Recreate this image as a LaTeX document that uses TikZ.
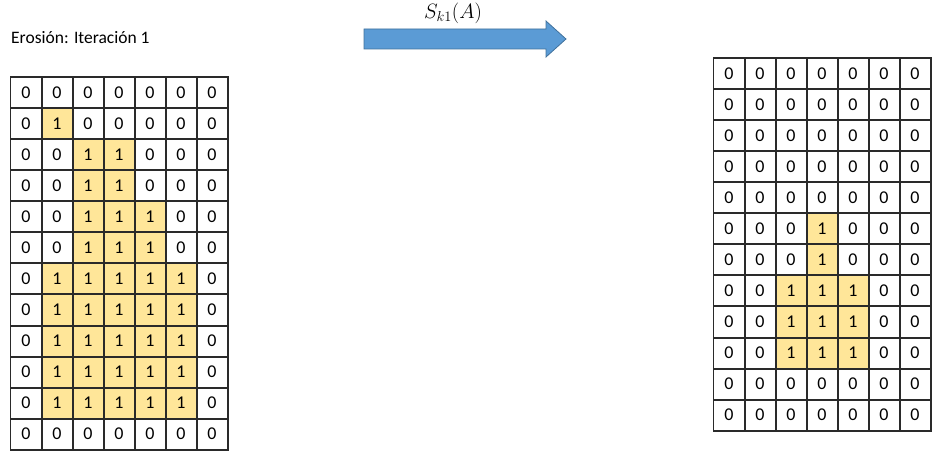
\documentclass[tikz,border=0pt]{standalone}
\usepackage{fontspec}
\setmainfont{Carlito}
\definecolor{cellyellow}{HTML}{FFE699}
\definecolor{arrowblue}{HTML}{5B9BD5}
\definecolor{arrowedge}{HTML}{41719C}
\definecolor{gridline}{HTML}{2A2A2A}
\tikzset{
  cell/.style={draw=gridline, line width=1pt, minimum width=31pt, minimum height=31pt, inner sep=0pt, anchor=center, font=\fontsize{18}{20}\selectfont},
  onecell/.style={cell, fill=cellyellow},
}
\def\leftdata{{0,0,0,0,0,0,0},{0,1,0,0,0,0,0},{0,0,1,1,0,0,0},{0,0,1,1,0,0,0},
 {0,0,1,1,1,0,0},{0,0,1,1,1,0,0},{0,1,1,1,1,1,0},{0,1,1,1,1,1,0},
 {0,1,1,1,1,1,0},{0,1,1,1,1,1,0},{0,1,1,1,1,1,0},{0,0,0,0,0,0,0}}
\def\rightdata{{0,0,0,0,0,0,0},{0,0,0,0,0,0,0},{0,0,0,0,0,0,0},{0,0,0,0,0,0,0},
 {0,0,0,0,0,0,0},{0,0,0,1,0,0,0},{0,0,0,1,0,0,0},{0,0,1,1,1,0,0},
 {0,0,1,1,1,0,0},{0,0,1,1,1,0,0},{0,0,0,0,0,0,0},{0,0,0,0,0,0,0}}
\begin{document}
\begin{tikzpicture}[x=1pt,y=-1pt]
\useasboundingbox (0,0) rectangle (943,457);
\node[anchor=west, font=\fontsize{17.5}{20}\selectfont, inner sep=0pt] (title) at (11,38) {Erosión: Iteración 1};
% cells
\foreach \row [count=\r] in \leftdata {
  \foreach \v [count=\c] in \row {
    \ifnum\v=1
      \node[onecell] (L-\r-\c) at ({26+(\c-1)*31},{93+(\r-1)*31}) {1};
    \else
      \node[cell] (L-\r-\c) at ({26+(\c-1)*31},{93+(\r-1)*31}) {0};
    \fi
  }
}
\foreach \row [count=\r] in \rightdata {
  \foreach \v [count=\c] in \row {
    \ifnum\v=1
      \node[onecell] (R-\r-\c) at ({729+(\c-1)*31},{74+(\r-1)*31}) {1};
    \else
      \node[cell] (R-\r-\c) at ({729+(\c-1)*31},{74+(\r-1)*31}) {0};
    \fi
  }
}
% grid lines over the fills
\foreach \r in {1,...,12} {
  \foreach \c in {1,...,7} {
    \draw[gridline, line width=1pt] (L-\r-\c.north west) rectangle (L-\r-\c.south east);
    \draw[gridline, line width=1pt] (R-\r-\c.north west) rectangle (R-\r-\c.south east);
  }
}
% arrow
\draw[fill=arrowblue, draw=arrowedge, line width=0.8pt, line join=miter]
  (364,29) -- (546,29) -- (546,21) -- (566,39) -- (546,57) -- (546,49) -- (364,49) -- cycle;
\node[font=\fontsize{21}{24}\selectfont] (lbl) at (453,13) {$S_{k1}(A)$};
\end{tikzpicture}
\end{document}
